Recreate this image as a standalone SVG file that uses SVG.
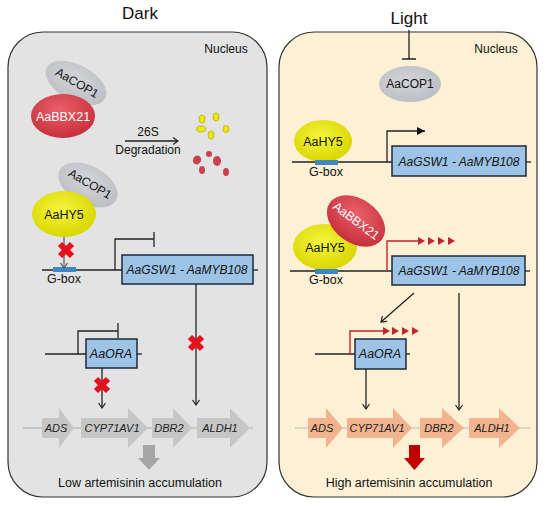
<svg xmlns="http://www.w3.org/2000/svg" width="554" height="508" viewBox="0 0 554 508">
<defs>
<style>
text{font-family:"Liberation Sans",Arial,sans-serif;}
.t{font-size:12px;fill:#111;text-anchor:middle;}
.it{font-style:italic;}
.ln{stroke:#222;stroke-width:1.3;fill:none;}
.gene{font-size:11px;font-style:italic;fill:#222;text-anchor:middle;}
.box{fill:#9dc3e6;stroke:#1c2a3a;stroke-width:1.5;}
.gbox{fill:#3f86c6;}
.x{stroke:#e3101e;stroke-width:6;}
.red{stroke:#c0262e;stroke-width:1.4;fill:none;}
</style>
<radialGradient id="gGrey" cx="0.45" cy="0.4" r="0.6"><stop offset="0" stop-color="#d3d5d9"/><stop offset="1" stop-color="#bdbfc4"/></radialGradient>
<radialGradient id="gRed" cx="0.45" cy="0.35" r="0.65"><stop offset="0" stop-color="#e9606a"/><stop offset="1" stop-color="#c7303b"/></radialGradient>
<radialGradient id="gYel" cx="0.45" cy="0.4" r="0.6"><stop offset="0" stop-color="#f6f640"/><stop offset="1" stop-color="#d9d600"/></radialGradient>
<marker id="ah" markerWidth="8" markerHeight="8" refX="6" refY="4" orient="auto" markerUnits="userSpaceOnUse"><path d="M1,0.5 L6,4 L1,7.5" fill="none" stroke="#222" stroke-width="1.2"/></marker>
<marker id="ahg" markerWidth="8" markerHeight="8" refX="6" refY="4" orient="auto" markerUnits="userSpaceOnUse"><path d="M1,0.5 L6,4 L1,7.5" fill="none" stroke="#555" stroke-width="1.2"/></marker>
<marker id="ahf" markerWidth="10" markerHeight="10" refX="8" refY="5" orient="auto" markerUnits="userSpaceOnUse"><path d="M0,1 L8,5 L0,9 Z" fill="#111"/></marker>
</defs>

<!-- Titles -->
<text x="140" y="19" style="font-size:17px;text-anchor:middle;fill:#111">Dark</text>
<text x="409" y="24" style="font-size:17px;text-anchor:middle;fill:#111">Light</text>

<!-- Panels -->
<g id="panel-dark">
<rect x="8" y="32" width="259" height="465" rx="35" fill="#e3e3e3" stroke="#333" stroke-width="1.2"/>
<text x="226" y="53" class="t">Nucleus</text>
</g>
<g id="panel-light">
<rect x="279" y="32" width="258" height="465" rx="35" fill="#fdf0d5" stroke="#333" stroke-width="1.2"/>
<text x="496" y="53" class="t">Nucleus</text>
</g>

<!-- ===== DARK ===== -->
<g id="d-cop1-a">
<ellipse cx="76" cy="83" rx="33" ry="18" transform="rotate(28 76 83)" fill="url(#gGrey)"/>
<text x="77" y="87" class="t" transform="rotate(30 77 83)">AaCOP1</text>
</g>
<g id="d-bbx21">
<ellipse cx="63" cy="116" rx="32" ry="22" fill="url(#gRed)"/>
<text x="63" y="121" style="font-size:12.5px;fill:#fff;text-anchor:middle">AaBBX21</text>
</g>
<g id="d-degradation">
<text x="148" y="136" class="t">26S</text>
<text x="148" y="154" class="t">Degradation</text>
</g>
<g id="d-fragments">
<g fill="#eaea10" stroke="#b8b000" stroke-width="0.8">
<ellipse cx="202" cy="119" rx="3" ry="4"/>
<ellipse cx="216" cy="117" rx="3" ry="4"/>
<ellipse cx="201" cy="129" rx="4.5" ry="3"/>
<ellipse cx="211" cy="135" rx="3" ry="4"/>
<ellipse cx="226" cy="129" rx="3" ry="3.5"/>
</g>
<g fill="#c9424e">
<ellipse cx="197" cy="160" rx="4" ry="4.5" transform="rotate(30 197 160)"/>
<ellipse cx="209" cy="154" rx="3" ry="3"/>
<ellipse cx="217" cy="161" rx="4" ry="5"/>
<ellipse cx="202" cy="170" rx="3" ry="4"/>
<ellipse cx="226" cy="172" rx="3" ry="4"/>
</g>
</g>
<g id="d-cop1-b">
<ellipse cx="88" cy="185" rx="32" ry="19" transform="rotate(28 88 185)" fill="url(#gGrey)"/>
<text x="90" y="188" class="t" transform="rotate(30 90 184)">AaCOP1</text>
</g>
<g id="d-hy5">
<ellipse cx="64" cy="214" rx="32" ry="23" fill="url(#gYel)"/>
<text x="64" y="219" style="font-size:12.5px;fill:#111;text-anchor:middle">AaHY5</text>
</g>
<g id="d-gsw1">
<line x1="42" y1="270" x2="122" y2="270" class="ln"/>
<line x1="253" y1="270" x2="258" y2="270" class="ln"/>
<rect x="53" y="267" width="23" height="5" class="gbox"/>
<text x="64" y="283" style="font-size:12.5px;fill:#111;text-anchor:middle">G-box</text>
<path d="M115,270 V239 H154 M154,232 V247" class="ln"/>
<rect x="122" y="255" width="131" height="29" class="box"/>
<text x="187" y="274" class="t it">AaGSW1 - AaMYB108</text>
</g>
<g id="d-ora">
<line x1="45" y1="354" x2="86" y2="354" class="ln"/>
<line x1="137" y1="354" x2="142" y2="354" class="ln"/>
<path d="M78,354 V331 H118 M118,323 V338" class="ln"/>
<rect x="86" y="339" width="51" height="29" class="box"/>
<text x="111" y="358" style="font-size:12.5px;font-style:italic;fill:#111;text-anchor:middle">AaORA</text>
</g>
<g id="d-genes">
<line x1="23" y1="428" x2="253" y2="428" stroke="#aaa" stroke-width="1.2"/>
<g fill="#c6c6c6">
<path d="M42,418 H59 V408 L74,428 L59,448 V438 H42 Z"/>
<path d="M81,418 H128 V408 L148,428 L128,448 V438 H81 Z"/>
<path d="M152,418 H173 V408 L192,428 L173,448 V438 H152 Z"/>
<path d="M197,418 H230 V408 L250,428 L230,448 V438 H197 Z"/>
</g>
<text x="56" y="432" class="gene">ADS</text>
<text x="112" y="432" class="gene">CYP71AV1</text>
<text x="169" y="432" class="gene">DBR2</text>
<text x="220" y="432" class="gene">ALDH1</text>
</g>
<g id="d-output">
<path d="M143,445 H155 V458 H160 L149,470 L138,458 H143 Z" fill="#a6a6a6"/>
<text x="140" y="487" style="font-size:12.5px;fill:#111;text-anchor:middle">Low artemisinin accumulation</text>
</g>

<!-- ===== LIGHT ===== -->
<g id="l-cop1">
<ellipse cx="410" cy="84" rx="31" ry="18" fill="url(#gGrey)"/>
<text x="410" y="88" class="t">AaCOP1</text>
</g>
<g id="l-hy5-a">
<ellipse cx="323" cy="141" rx="29" ry="21" fill="url(#gYel)"/>
<text x="323" y="146" style="font-size:12.5px;fill:#111;text-anchor:middle">AaHY5</text>
</g>
<g id="l-gsw1-a">
<line x1="292" y1="162" x2="392" y2="162" class="ln"/>
<line x1="526" y1="162" x2="531" y2="162" class="ln"/>
<rect x="315" y="160" width="23" height="5" class="gbox"/>
<text x="326" y="176" style="font-size:12.5px;fill:#111;text-anchor:middle">G-box</text>
<path d="M387,162 V131 H425" class="ln" marker-end="url(#ahf)"/>
<rect x="392" y="146" width="134" height="30" class="box"/>
<text x="459" y="166" class="t it">AaGSW1 - AaMYB108</text>
</g>
<g id="l-hy5-b">
<ellipse cx="325" cy="247" rx="32" ry="23" fill="url(#gYel)"/>
<text x="325" y="252" style="font-size:12.5px;fill:#111;text-anchor:middle">AaHY5</text>
</g>
<g id="l-bbx21">
<ellipse cx="356" cy="221" rx="32" ry="22" transform="rotate(35 356 221)" fill="url(#gRed)"/>
<text x="356" y="225" style="font-size:12.5px;fill:#fff;text-anchor:middle" transform="rotate(37 356 221)">AaBBX21</text>
</g>
<g id="l-gsw1-b">
<line x1="290" y1="271" x2="392" y2="271" class="ln"/>
<line x1="525" y1="271" x2="530" y2="271" class="ln"/>
<rect x="315" y="269" width="23" height="5" class="gbox"/>
<text x="326" y="284" style="font-size:12.5px;fill:#111;text-anchor:middle">G-box</text>
<path d="M387,271 V241 H418" class="red"/>
<g fill="#c0262e">
<path d="M418,237 L425,241 L418,245 Z"/>
<path d="M428,237 L435,241 L428,245 Z"/>
<path d="M438,237 L445,241 L438,245 Z"/>
<path d="M448,237 L455,241 L448,245 Z"/>
</g>
<rect x="392" y="256" width="133" height="29" class="box"/>
<text x="459" y="275" class="t it">AaGSW1 - AaMYB108</text>
</g>
<g id="l-ora">
<line x1="315" y1="354" x2="355" y2="354" class="ln"/>
<line x1="406" y1="354" x2="410" y2="354" class="ln"/>
<path d="M350,354 V331 H384" class="red"/>
<g fill="#c0262e">
<path d="M383,327 L390,331 L383,335 Z"/>
<path d="M392,327 L399,331 L392,335 Z"/>
<path d="M402,327 L409,331 L402,335 Z"/>
<path d="M412,327 L419,331 L412,335 Z"/>
</g>
<rect x="355" y="339" width="51" height="30" class="box"/>
<text x="380" y="358" style="font-size:12.5px;font-style:italic;fill:#111;text-anchor:middle">AaORA</text>
</g>
<g id="l-genes">
<line x1="295" y1="428" x2="530" y2="428" stroke="#bbb" stroke-width="1.2"/>
<g fill="#f2b48f">
<path d="M308,418 H326 V408 L343,428 L326,448 V438 H308 Z"/>
<path d="M347,418 H393 V408 L412,428 L393,448 V438 H347 Z"/>
<path d="M420,418 H442 V408 L464,428 L442,448 V438 H420 Z"/>
<path d="M469,418 H499 V408 L520,428 L499,448 V438 H469 Z"/>
</g>
<text x="322" y="432" class="gene">ADS</text>
<text x="377" y="432" class="gene">CYP71AV1</text>
<text x="439" y="432" class="gene">DBR2</text>
<text x="492" y="432" class="gene">ALDH1</text>
</g>
<g id="l-output">
<path d="M409,445 H420 V458 H425 L414.5,470 L404,458 H409 Z" fill="#c00000"/>
<text x="409" y="487" style="font-size:12.5px;fill:#111;text-anchor:middle">High artemisinin accumulation</text>
</g>

<!-- Connectors -->
<g id="connectors">
<line x1="125" y1="141" x2="178" y2="141" class="ln" marker-end="url(#ah)"/>
<line x1="64" y1="237" x2="64" y2="268" stroke="#555" stroke-width="1.2" marker-end="url(#ahg)"/>
<line x1="196" y1="284" x2="196" y2="405" class="ln" marker-end="url(#ah)"/>
<line x1="102" y1="368" x2="102" y2="408" class="ln" marker-end="url(#ah)"/>
<path d="M409,30 V59 M402,59 H416" class="ln"/>
<line x1="414" y1="293" x2="381" y2="322" class="ln" marker-end="url(#ah)"/>
<line x1="459" y1="293" x2="459" y2="410" class="ln" marker-end="url(#ah)"/>
<line x1="366" y1="369" x2="366" y2="409" class="ln" marker-end="url(#ah)"/>
<g id="blocks">
<path d="M60,244 L72,256 M72,244 L60,256" class="x"/>
<path d="M190,337 L202,349 M202,337 L190,349" class="x"/>
<path d="M96,379 L108,391 M108,379 L96,391" class="x"/>
</g>
</g>
</svg>
